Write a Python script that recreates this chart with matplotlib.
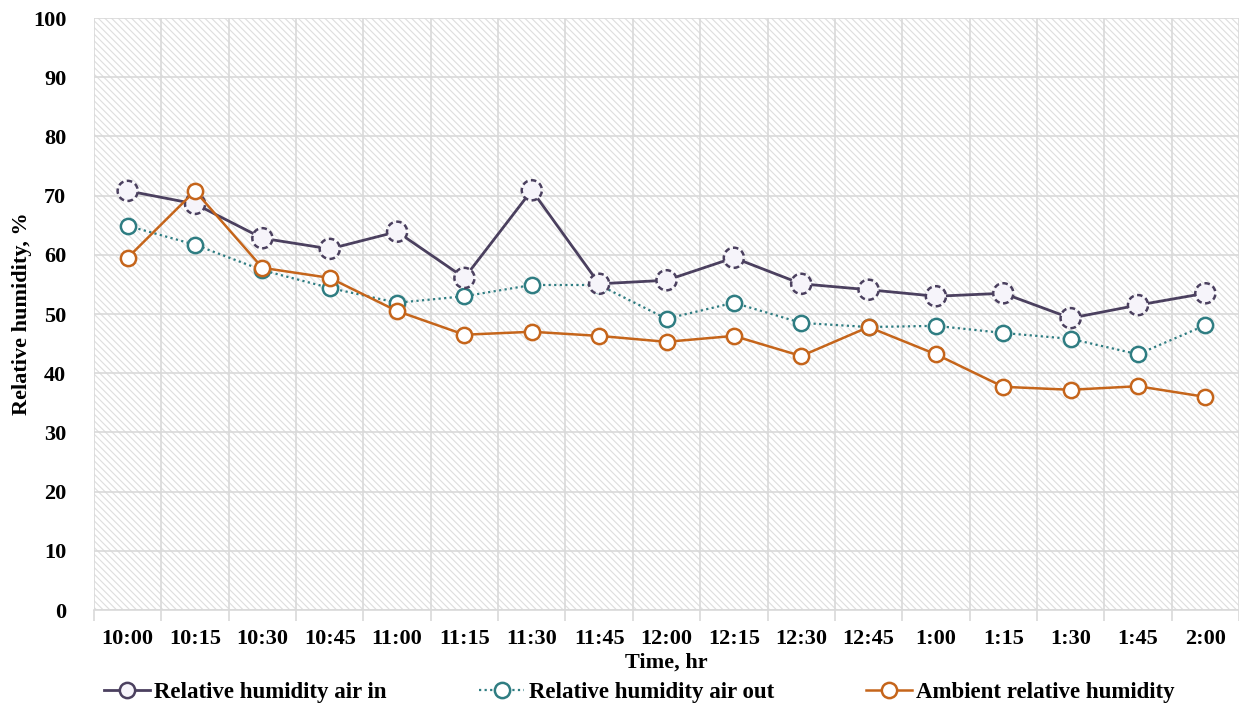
import matplotlib
matplotlib.use("Agg")
import matplotlib.pyplot as plt
from matplotlib.patches import Rectangle
from matplotlib.lines import Line2D
import numpy as np

times = ["10:00", "10:15", "10:30", "10:45", "11:00", "11:15", "11:30", "11:45",
         "12:00", "12:15", "12:30", "12:45", "1:00", "1:15", "1:30", "1:45", "2:00"]

rh_air_in = [70.8, 68.6, 62.8, 61.0, 63.9, 56.1, 70.9, 55.1, 55.7, 59.5,
             55.1, 54.1, 53.0, 53.5, 49.3, 51.5, 53.5]
rh_air_out = [64.9, 61.7, 57.4, 54.4, 51.9, 53.0, 54.9, 54.9, 49.2, 51.9,
              48.5, 47.8, 48.0, 46.8, 45.8, 43.2, 48.1]
rh_ambient = [59.5, 70.8, 57.8, 56.1, 50.5, 46.5, 47.0, 46.3, 45.3, 46.3,
              42.9, 47.8, 43.2, 37.7, 37.2, 37.8, 36.0]

y_ticks = list(range(0, 101, 10))

plt.rcParams["font.family"] = ["Liberation Serif", "DejaVu Serif"]
plt.rcParams["font.weight"] = "bold"
plt.rcParams["hatch.linewidth"] = 0.8

c_in = "#4B405F"
c_out = "#2F7D82"
c_amb = "#C5651B"
grid_c = "#D9D9D9"

fig = plt.figure(figsize=(12.39, 7.10), dpi=100)
ax = fig.add_axes([94 / 1239, 1 - 610 / 710, 1 - 94 / 1239, (610 - 18) / 710])

x = np.arange(len(times))

# hatched plot-area background
ax.add_patch(Rectangle((0, 0), 1, 1, transform=ax.transAxes, facecolor="white",
                       edgecolor="#DEDEDE", hatch="\\\\\\\\\\", linewidth=0, zorder=0))

ax.set_xlim(-0.5, len(times) - 0.5)
ax.set_ylim(0, 100)
ax.set_yticks(y_ticks)
ax.set_xticks(x)
ax.set_xticklabels(times)
ax.set_xticks(np.arange(-0.5, len(times), 1.0), minor=True)

ax.grid(axis="y", which="major", color=grid_c, lw=1.2, zorder=1)
ax.grid(axis="x", which="minor", color=grid_c, lw=1.2, zorder=1)
ax.set_axisbelow(True)

ax.tick_params(axis="x", which="major", length=0, pad=14, labelsize=16)
ax.tick_params(axis="x", which="minor", length=8, width=1.2, color=grid_c)
ax.tick_params(axis="y", length=0, pad=20, labelsize=16)
for s in ["top", "right", "left"]:
    ax.spines[s].set_visible(False)
ax.spines["bottom"].set_color(grid_c)
ax.spines["bottom"].set_linewidth(1.2)

# Relative humidity air in: solid line, dashed-outline markers
ax.plot(x, rh_air_in, color=c_in, lw=2.0, zorder=3)
ax.scatter(x, rh_air_in, s=210, facecolor="#F6F4FA", edgecolor=c_in,
           linewidths=1.8, linestyle=(0, (2.2, 1.4)), zorder=4)

# Relative humidity air out: dotted line
ax.plot(x, rh_air_out, color=c_out, lw=1.6, ls=(0, (1, 1.5)), marker="o",
        ms=11, mfc="white", mec=c_out, mew=1.8, zorder=3)

# Ambient relative humidity
ax.plot(x, rh_ambient, color=c_amb, lw=1.8, marker="o",
        ms=11, mfc="white", mec=c_amb, mew=1.8, zorder=5)

ax.set_xlabel("Time, hr", fontsize=16, fontweight="bold", labelpad=2)
fig.text(22 / 1239, 1 - 314 / 710, "Relative humidity, %", rotation=90,
         ha="center", va="center", fontsize=16, fontweight="bold")

handles = [
    Line2D([], [], color=c_in, lw=2.0, marker="o", ms=11, mfc="#F6F4FA",
           mec=c_in, mew=1.8),
    Line2D([], [], color=c_out, lw=1.6, ls=(0, (1, 1.5)), marker="o", ms=11,
           mfc="white", mec=c_out, mew=1.8),
    Line2D([], [], color=c_amb, lw=1.8, marker="o", ms=11, mfc="white",
           mec=c_amb, mew=1.8),
]
labels = ["Relative humidity air in", "Relative humidity air out",
          "Ambient relative humidity"]
fig.legend(handles, labels, loc="center left", bbox_to_anchor=(104 / 1239, 1 - 692 / 710),
           ncol=3, frameon=False, fontsize=16.5, handlelength=2.0,
           handletextpad=0.2, columnspacing=4.0, borderaxespad=0, borderpad=0)

fig.savefig("out.png", dpi=100)
